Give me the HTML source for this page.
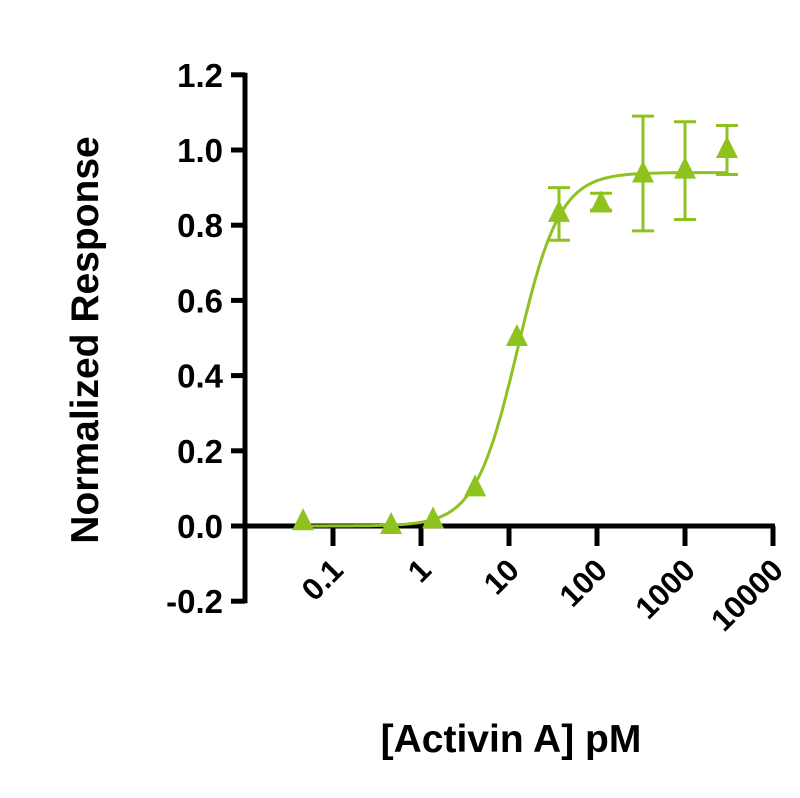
<!DOCTYPE html>
<html><head><meta charset="utf-8"><style>
html,body{margin:0;padding:0;background:#fff;}
svg{display:block;font-family:"Liberation Sans",Arial,sans-serif;font-weight:bold;}
</style></head><body>
<svg id="chart" width="800" height="798" viewBox="0 0 800 798" xmlns="http://www.w3.org/2000/svg"></svg>
<script>
const concentrations = [0.0457, 0.457, 1.37, 4.12, 12.3, 37, 111, 333, 1000, 3000];
const responses = [0.01, 0.0, 0.015, 0.10, 0.50, 0.83, 0.855, 0.935, 0.945, 1.0];
const errLow = [null, null, null, null, null, 0.76, 0.84, 0.785, 0.815, 0.935];
const errHigh = [null, null, null, null, null, 0.90, 0.885, 1.09, 1.075, 1.065];
const yTicks = [-0.2, 0.0, 0.2, 0.4, 0.6, 0.8, 1.0, 1.2];
const yTickLabels = ["-0.2", "0.0", "0.2", "0.4", "0.6", "0.8", "1.0", "1.2"];
const xTicks = [0.1, 1, 10, 100, 1000, 10000];
const xTickLabels = ["0.1", "1", "10", "100", "1000", "10000"];
const fitBottom = 0.0, fitTop = 0.94, fitEC50 = 12.5, fitHill = 1.8;

const NS = "http://www.w3.org/2000/svg";
const svg = document.getElementById('chart');
const GREEN = "#8dc21f";
function X(v){ return 509 + (Math.log10(v) - 1) * 88; }
function Y(v){ return 526 - v * 376; }
function mk(tag, attrs, parent){
  const e = document.createElementNS(NS, tag);
  for (const k in attrs) e.setAttribute(k, attrs[k]);
  (parent || svg).appendChild(e);
  return e;
}
let ax = mk('line', {x1:245, y1:Y(1.2)-2, x2:245, y2:Y(-0.2)+2, stroke:'#000','stroke-width':5});


let xax = mk('line', {x1:243, y1:526, x2:775, y2:526, stroke:'#000','stroke-width':5});


yTicks.forEach((t,i)=>{
  const tk = mk('line', {x1:231, y1:Y(t), x2:245, y2:Y(t), stroke:'#000','stroke-width':5});
  
  
  const tx = mk('text', {x:223, y:Y(t)+12, 'text-anchor':'end','font-size':33, fill:'#000'});
  tx.textContent = yTickLabels[i];
  
  
});
xTicks.forEach((t,i)=>{
  const tk = mk('line', {x1:X(t), y1:526, x2:X(t), y2:546, stroke:'#000','stroke-width':5});
  
  
  const tx = mk('text', {x:0, y:0, 'text-anchor':'end','font-size':31, fill:'#000', transform:`translate(${X(t)+12},${572}) rotate(-45)`});
  tx.textContent = xTickLabels[i];
  
  
});
let d = '';
for (let lx = Math.log10(concentrations[0]); lx <= Math.log10(concentrations[concentrations.length-1]) + 1e-9; lx += 0.02){
  const c = Math.pow(10, lx);
  const r = fitBottom + (fitTop - fitBottom) / (1 + Math.pow(fitEC50 / c, fitHill));
  d += (d ? 'L' : 'M') + X(c).toFixed(1) + ',' + Y(r).toFixed(1);
}
const curve = mk('path', {d:d, fill:'none', stroke:GREEN, 'stroke-width':3});


concentrations.forEach((c,i)=>{
  const x = X(c);
  if (errLow[i] !== null){
    const g = mk('g', {stroke:GREEN, 'stroke-width':3});
    
    
    mk('line', {x1:x, y1:Y(errLow[i]), x2:x, y2:Y(errHigh[i])}, g);
    mk('line', {x1:x-11, y1:Y(errLow[i]), x2:x+11, y2:Y(errLow[i])}, g);
    mk('line', {x1:x-11, y1:Y(errHigh[i]), x2:x+11, y2:Y(errHigh[i])}, g);
  }
  const y = Y(responses[i]);
  const p = mk('polygon', {points:`${x},${y-14} ${x-11},${y+8} ${x+11},${y+8}`, fill:GREEN});
  
  
});
const yt = mk('text', {x:0, y:0, 'text-anchor':'middle', 'font-size':39, fill:'#000', transform:'translate(98,340) rotate(-90)'});
yt.textContent = 'Normalized Response';


const xt = mk('text', {x:511, y:752, 'text-anchor':'middle', 'font-size':39, fill:'#000'});
xt.textContent = '[Activin A] pM';


</script>
</body></html>
